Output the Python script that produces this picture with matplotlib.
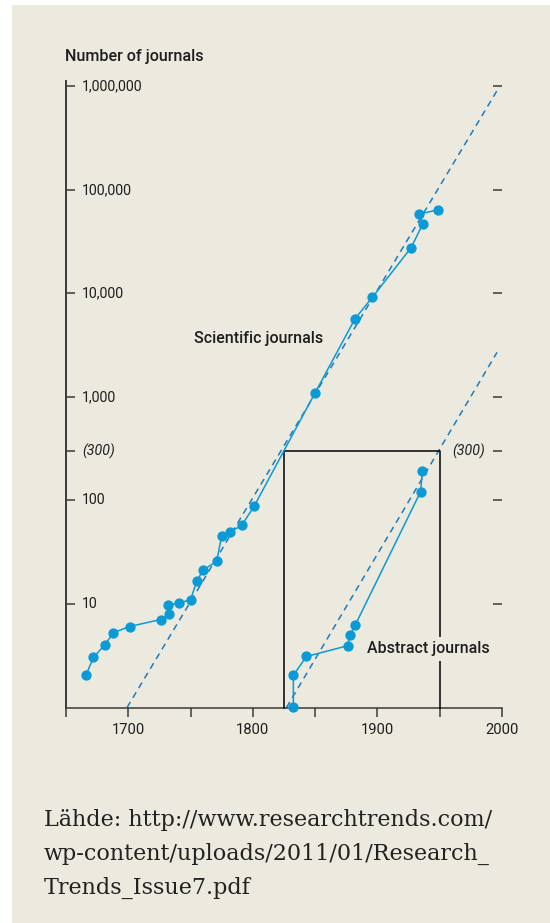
import matplotlib
matplotlib.use("Agg")
import matplotlib.pyplot as plt
from matplotlib.patches import Rectangle
from matplotlib.ticker import NullLocator
import matplotlib.transforms as mtransforms

# ---------------- data ----------------
sci_years = [1666, 1672, 1681, 1688, 1701, 1726, 1733, 1732, 1741, 1750,
             1755, 1760, 1771, 1775, 1782, 1791, 1801, 1850, 1882, 1896,
             1927, 1936.5, 1933, 1949]
sci_values = [2.04, 3.06, 4.0, 5.27, 6.06, 7.08, 7.97, 9.8, 10.2, 11.05,
              16.6, 21.2, 25.9, 45.9, 49.9, 57.4, 88, 1100, 5700, 9200,
              27700, 47100, 58400, 64400]

abs_years = [1832.5, 1832.5, 1843, 1876, 1878, 1882, 1934.7, 1936]
abs_values = [1.02, 2.05, 3.11, 3.95, 5.07, 6.2, 122, 192]

sci_trend_years = [1699, 1998]
sci_trend_values = [1, 1e6]
abs_trend_years = [1827, 1996]
abs_trend_values = [1, 2700]

box_years = [1825, 1950]
box_values = [1, 300]

ytick_values = [10, 100, 300, 1000, 10000, 100000, 1000000]
ytick_labels = ["10", "100", "(300)", "1,000", "10,000", "100,000", "1,000,000"]
xtick_values = [1650, 1700, 1750, 1800, 1850, 1900, 1950, 2000]
xtick_labels = ["", "1700", "", "1800", "", "1900", "", "2000"]

title = "Number of journals"
sci_label = "Scientific journals"
abs_label = "Abstract journals"
source_lines = ["Lähde: http://www.researchtrends.com/",
                "wp-content/uploads/2011/01/Research_",
                "Trends_Issue7.pdf"]

# ---------------- style ----------------
BG = "#ECE9DF"
BLUE = "#0A9AD6"
DASH = "#1C7CC0"
INK = "#1E1E1E"
AX = "#3A3A3A"
FONT = ["Roboto", "DejaVu Sans"]

W, H = 550, 923
fig = plt.figure(figsize=(W / 100, H / 100), dpi=100, facecolor="white")
fig.patches.append(Rectangle((12 / W, 0), 1 - 12 / W, 1 - 5 / H,
                             transform=fig.transFigure, facecolor=BG,
                             edgecolor="none", zorder=-10))

left, right = 66 / W, 502 / W
bottom, top = 1 - 707.5 / H, 1 - 81 / H
ax = fig.add_axes([left, bottom, right - left, top - bottom])
ax.set_facecolor("none")
ax.set_yscale("log")
ax.set_xlim(1650, 2000)
ax.set_ylim(1, 1.13e6)

for s in ["top", "right"]:
    ax.spines[s].set_visible(False)
for s in ["left", "bottom"]:
    ax.spines[s].set_color(AX)
ax.spines["left"].set_linewidth(1.4)
ax.spines["bottom"].set_linewidth(1.1)

# y ticks
ax.yaxis.set_minor_locator(NullLocator())
ax.set_yticks(ytick_values)
ax.set_yticklabels([])
ax.tick_params(axis="y", which="major", direction="in", length=6.3, width=1.1,
               color=AX, left=True, right=True, labelleft=False)
trans_y = mtransforms.blended_transform_factory(ax.transAxes, ax.transData)
for v, lab in zip(ytick_values, ytick_labels):
    italic = lab.startswith("(")
    ax.text(16 / (502 - 66), v, lab, transform=trans_y, ha="left", va="center",
            fontsize=10.2, color=INK, family=FONT,
            style="italic" if italic else "normal")
    if italic:
        ax.text(1 - 17 / (502 - 66), v, lab, transform=trans_y, ha="right",
                va="center", fontsize=10.2, color=INK, family=FONT,
                style="italic")

# x ticks
ax.set_xticks(xtick_values)
ax.set_xticklabels(xtick_labels, family=FONT, fontsize=10.6, color=INK)
ax.tick_params(axis="x", direction="out", length=6.6, width=1.1, color=AX, pad=4.5)

# trend lines
ax.plot(sci_trend_years, sci_trend_values, ls=(0, (4.2, 3.2)), color=DASH, lw=1.1,
        zorder=2)
ax.plot(abs_trend_years, abs_trend_values, ls=(0, (4.2, 3.2)), color=DASH, lw=1.1,
        zorder=2)

# data
ax.plot(sci_years, sci_values, color=BLUE, lw=1.1, marker="o", ms=6.4,
        mec=BLUE, mfc=BLUE, zorder=4, clip_on=False)
ax.plot(abs_years, abs_values, color=BLUE, lw=1.1, marker="o", ms=6.4,
        mec=BLUE, mfc=BLUE, zorder=4, clip_on=False)

# box
ax.plot([box_years[0], box_years[0], box_years[1], box_years[1]],
        [box_values[0], box_values[1], box_values[1], box_values[0]],
        color="black", lw=1.1, zorder=3, clip_on=False)

# labels
ax.text(1700 + (194 - 128) / 1.247, 10 ** ((707.5 - 339) / 103.5), sci_label,
        ha="left", va="center", fontsize=11.5, color=INK, family=FONT,
        fontweight="medium")
ax.text(1700 + (367 - 128) / 1.247, 10 ** ((707.5 - 649) / 103.5), abs_label,
        ha="left", va="center", fontsize=11.4, color=INK, family=FONT,
        fontweight="medium", zorder=5,
        bbox=dict(boxstyle="square,pad=0.3", fc=BG, ec="none"))

fig.text(65 / W, 1 - 57 / H, title, ha="left", va="center", fontsize=11.6,
         color=INK, family=FONT, fontweight="medium")

for i, line in enumerate(source_lines):
    fig.text(44 / W, 1 - (826 + 34 * i) / H, line, ha="left", va="baseline",
             fontsize=16, color="#222222", family=["DejaVu Serif"])

fig.savefig("out.png", dpi=100, facecolor=fig.get_facecolor())
